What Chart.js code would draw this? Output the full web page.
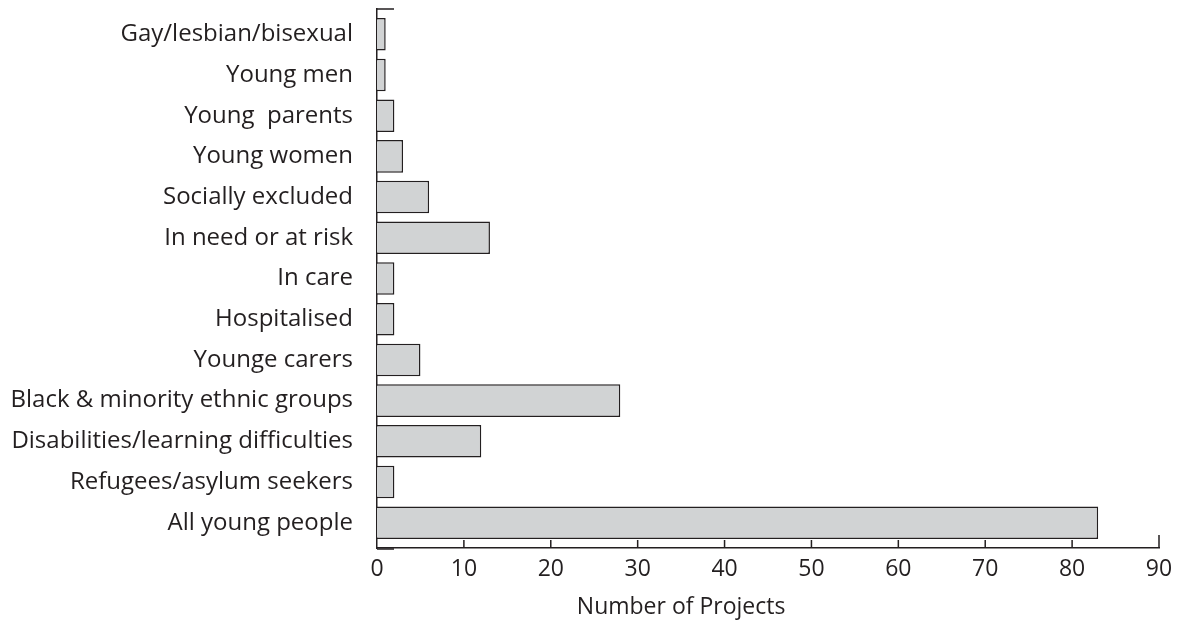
<!DOCTYPE html>
<html>
<head>
<meta charset="utf-8">
<script src="https://cdn.jsdelivr.net/npm/chart.js@4.4.0/dist/chart.umd.min.js"></script>
<style>
  html, body { margin: 0; padding: 0; background: #fff; }
  #wrap { width: 1185px; height: 622px; }
</style>
</head>
<body>
<div id="wrap"><canvas id="projects"></canvas></div>
<script>
// target groups, top to bottom
const groups = [
  'Gay/lesbian/bisexual',
  'Young men',
  'Young  parents',
  'Young women',
  'Socially excluded',
  'In need or at risk',
  'In care',
  'Hospitalised',
  'Younge carers',
  'Black & minority ethnic groups',
  'Disabilities/learning difficulties',
  'Refugees/asylum seekers',
  'All young people'
];
const projectCounts = [1, 1, 2, 3, 6, 13, 2, 2, 5, 28, 12, 2, 83];
const xTickValues = [0, 10, 20, 30, 40, 50, 60, 70, 80, 90];
const xTitle = 'Number of Projects';

const ink = '#231f20';
const tickFont = { family: 'Open Sans', size: 23 };
const groupFont = { family: 'Open Sans', size: 24 };

// linear index axis so the axis can run a little past the first/last bar
const points = groups.map((g, i) => ({ x: projectCounts[i], y: i }));

// axis extras: inward ticks, end caps, offset title
const axisExtras = {
  id: 'axisExtras',
  afterDraw(chart) {
    const { ctx, chartArea, scales } = chart;
    const xs = scales.x;
    ctx.save();
    ctx.strokeStyle = ink;
    ctx.lineWidth = 1.5;
    ctx.beginPath();
    xTickValues.forEach((v) => {
      if (v === 0) return;
      const px = xs.getPixelForValue(v);
      const len = v === xs.max ? 13 : 8;
      ctx.moveTo(px, chartArea.bottom);
      ctx.lineTo(px, chartArea.bottom - len);
    });
    // little caps at the ends of the category axis
    ctx.moveTo(chartArea.left, chartArea.top);
    ctx.lineTo(chartArea.left + 17, chartArea.top);
    ctx.moveTo(chartArea.left, chartArea.bottom + 1);
    ctx.lineTo(chartArea.left + 17, chartArea.bottom + 1);
    ctx.stroke();

    ctx.fillStyle = ink;
    ctx.font = `${tickFont.size}px ${tickFont.family}`;
    ctx.textAlign = 'center';
    ctx.textBaseline = 'middle';
    ctx.fillText(xTitle, xs.getPixelForValue(35), 607);
    ctx.restore();
  }
};

const config = {
  type: 'bar',
  data: {
    datasets: [{
      label: xTitle,
      data: points,
      backgroundColor: '#d1d3d4',
      borderColor: ink,
      borderWidth: 1.5,
      borderSkipped: 'start',
      barPercentage: 0.8,
      categoryPercentage: 1
    }]
  },
  options: {
    indexAxis: 'y',
    responsive: true,
    maintainAspectRatio: false,
    animation: false,
    layout: { padding: { top: 9, right: 26, left: 0, bottom: 0 } },
    plugins: {
      legend: { display: false },
      tooltip: { enabled: false }
    },
    scales: {
      x: {
        type: 'linear',
        min: 0,
        max: 90,
        grid: { display: false, drawTicks: false },
        border: { display: true, color: ink, width: 1.5 },
        ticks: {
          stepSize: 10,
          padding: 8,
          color: ink,
          font: tickFont
        },
        afterFit(scale) {
          scale.height = 74;
          scale.paddingLeft = 0;
          scale.paddingRight = 0;
        }
      },
      y: {
        type: 'linear',
        reverse: true,
        offset: false,
        min: -0.62,
        max: 12.62,
        grid: { display: false, drawTicks: false, offset: false },
        border: { display: true, color: ink, width: 1.5 },
        afterBuildTicks(scale) {
          scale.ticks = groups.map((g, i) => ({ value: i }));
        },
        ticks: {
          autoSkip: false,
          padding: 24,
          color: ink,
          font: groupFont,
          callback: (v) => groups[v]
        },
        afterFit(scale) {
          scale.width = 377;
          scale.paddingTop = 0;
          scale.paddingBottom = 0;
        }
      }
    }
  },
  plugins: [axisExtras]
};

const projectsChart = new Chart(document.getElementById('projects'), config);
</script>
</body>
</html>
